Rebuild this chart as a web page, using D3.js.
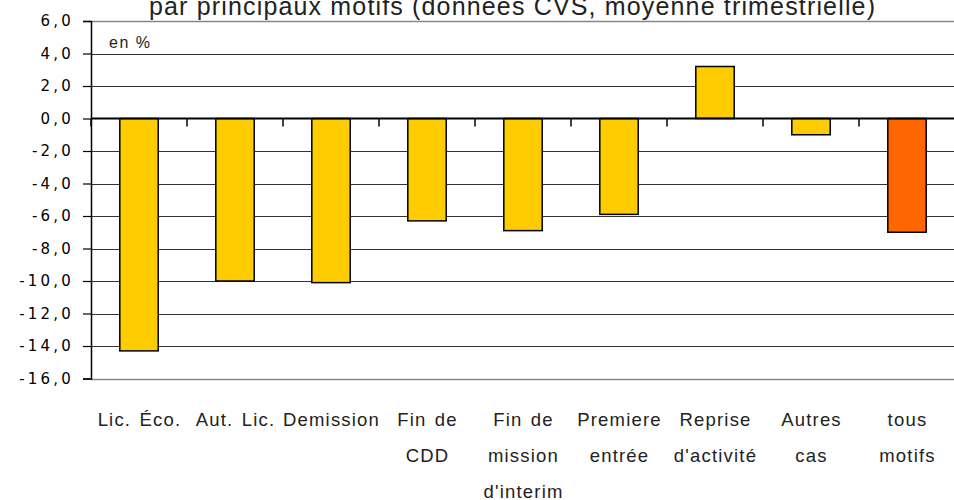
<!DOCTYPE html>
<html>
<head>
<meta charset="utf-8">
<script src="https://cdn.jsdelivr.net/npm/d3@7"></script>
<style>
  body { margin: 0; background: #fff; }
  svg { display: block; font-family: "Liberation Sans", Arial, sans-serif; }
</style>
</head>
<body>
<div id="chart"></div>
<script>
// categories (line breaks as in the picture)
const categories = [
	["Lic. Éco."],
	["Aut. Lic."],
	["Demission"],
	["Fin de", "CDD"],
	["Fin de", "mission", "d'interim"],
	["Premiere", "entrée"],
	["Reprise", "d'activité"],
	["Autres", "cas"],
	["tous", "motifs"]
];
const values = [-14.3, -10.0, -10.1, -6.3, -6.9, -5.9, 3.2, -1.0, -7.0];
const barColors = ["#FFCC00", "#FFCC00", "#FFCC00", "#FFCC00", "#FFCC00", "#FFCC00", "#FFCC00", "#FFCC00", "#FF6600"];
const yTicks = [6, 4, 2, 0, -2, -4, -6, -8, -10, -12, -14, -16];

const width = 954, height = 500;
const margin = { top: 21, right: 0, bottom: 121, left: 91 };
const step = 96;

const svg = d3.select("#chart").append("svg")
	.attr("width", width)
	.attr("height", height);

const x = d3.scaleBand()
	.domain(d3.range(categories.length))
	.range([margin.left, margin.left + step * categories.length])
	.paddingInner(0.6)
	.paddingOuter(0.3);

const y = d3.scaleLinear()
	.domain([-16, 6])
	.range([height - margin.bottom - 0.5, margin.top]);

const fmt = d => d3.format(".1f")(d).replace(".", ",").replace("−", "-");

// gridlines
svg.append("g")
	.selectAll("line")
	.data(yTicks.filter(d => d !== 0 && d !== 6 && d !== -16))
	.join("line")
	.attr("x1", margin.left).attr("x2", width)
	.attr("y1", d => Math.round(y(d)) + 0.5).attr("y2", d => Math.round(y(d)) + 0.5)
	.attr("stroke", "#333").attr("stroke-width", 1);

// plot border top/bottom (grey)
svg.append("g")
	.selectAll("line")
	.data([6, -16])
	.join("line")
	.attr("x1", margin.left).attr("x2", width)
	.attr("y1", d => Math.round(y(d)) + 0.5).attr("y2", d => Math.round(y(d)) + 0.5)
	.attr("stroke", "#888").attr("stroke-width", 1.5);

// y axis
const yAxis = svg.append("g")
	.attr("transform", `translate(${margin.left},0)`)
	.call(d3.axisLeft(y).tickValues(yTicks).tickFormat(fmt).tickSize(8).tickPadding(9));
yAxis.select(".domain").attr("stroke", "#000").attr("stroke-width", 1.5);
yAxis.selectAll(".tick line").attr("stroke", "#000").attr("stroke-width", 1.2);
yAxis.selectAll("text")
	.attr("font-size", 15)
	.attr("font-family", "DejaVu Sans, Verdana, sans-serif")
	.attr("letter-spacing", 3.2)
	.attr("fill", "#000");

// bars
svg.append("g")
	.selectAll("rect")
	.data(values)
	.join("rect")
	.attr("x", (d, i) => x(i))
	.attr("width", x.bandwidth())
	.attr("y", d => y(Math.max(0, d)))
	.attr("height", d => Math.abs(y(d) - y(0)))
	.attr("fill", (d, i) => barColors[i])
	.attr("stroke", "#000")
	.attr("stroke-width", 1.5);

// zero line with category ticks
svg.append("line")
	.attr("x1", margin.left).attr("x2", width)
	.attr("y1", y(0)).attr("y2", y(0))
	.attr("stroke", "#000").attr("stroke-width", 2);
svg.append("g")
	.selectAll("line")
	.data(d3.range(categories.length + 1))
	.join("line")
	.attr("x1", i => margin.left + i * step).attr("x2", i => margin.left + i * step)
	.attr("y1", y(0)).attr("y2", y(0) + 8)
	.attr("stroke", "#000").attr("stroke-width", 1.5);

// category labels
const lab = svg.append("g")
	.selectAll("text")
	.data(categories)
	.join("text")
	.attr("x", (d, i) => margin.left + i * step + step / 2 + 0.5)
	.attr("text-anchor", "middle")
	.attr("font-size", 18.5)
	.attr("letter-spacing", 1.2)
	.attr("word-spacing", 2)
	.attr("fill", "#222");
lab.selectAll("tspan")
	.data(d => d)
	.join("tspan")
	.attr("x", function () { return this.parentNode.getAttribute("x"); })
	.attr("y", (d, j) => 426 + j * 36)
	.text(d => d);

// unit label
svg.append("text")
	.attr("x", 109).attr("y", 48)
	.attr("font-size", 16)
	.attr("letter-spacing", 1.5)
	.attr("fill", "#222")
	.text("en %");

// title (cut off at top)
svg.append("text")
	.attr("x", 149).attr("y", 15)
	.attr("font-size", 25)
	.attr("textLength", 726)
	.attr("lengthAdjust", "spacing")
	.attr("fill", "#222")
	.text("par principaux motifs (données CVS, moyenne trimestrielle)");
</script>
</body>
</html>
